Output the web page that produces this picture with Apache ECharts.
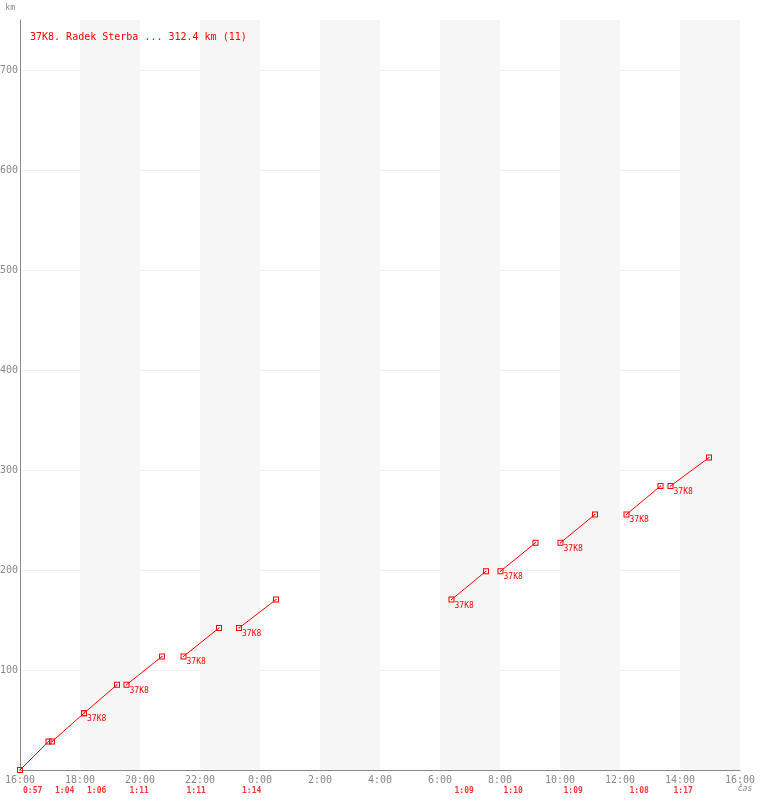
<!DOCTYPE html>
<html><head><meta charset="utf-8">
<script src="https://cdn.jsdelivr.net/npm/echarts@6/dist/echarts.min.js"></script>
<style>html,body{margin:0;padding:0;background:#fff}#c{width:760px;height:800px}</style>
</head><body><div id="c"></div>
<script>
var legStart = ['16:00','17:04','18:08','19:33','21:27','23:18','6:23','8:01','10:01','12:13','13:41'];
var legEnd   = ['16:57','18:08','19:14','20:44','22:38','0:32','7:32','9:11','11:10','13:21','14:58'];
var kmStart  = [0, 28.4, 56.8, 85.2, 113.6, 142.0, 170.4, 198.8, 227.2, 255.6, 284.0];
var kmEnd    = [28.4, 56.8, 85.2, 113.6, 142.0, 170.4, 198.8, 227.2, 255.6, 284.0, 312.4];
var durations = ['0:57','1:04','1:06','1:11','1:11','1:14','1:09','1:10','1:09','1:08','1:17'];
var pointLabels = ['','','37K8','37K8','37K8','37K8','37K8','37K8','37K8','37K8','37K8'];
var title = '37K8. Radek Sterba ... 312.4 km (11)';

function toMin(t){ var p=t.split(':'); var h=+p[0], m=+p[1]; if(h<16) h+=24; return (h-16)*60+m; }
var RED = '#ff0000';
var FONT = '"DejaVu Sans Mono", monospace';
var sym = 'path://M0 0H6V6H0Z M1 1V5H5V1Z M2.5 2.5H3.5V3.5H2.5Z';

var series = [];
for (var i=0;i<legStart.length;i++){
  series.push({
    type:'line', silent:true, animation:false,
    data:[
      {value:[toMin(legStart[i]), kmStart[i]], label:{show: !!pointLabels[i], formatter: pointLabels[i]}},
      {value:[toMin(legEnd[i]), kmEnd[i]]}
    ],
    lineStyle:{color:RED, width:1},
    itemStyle:{color:RED},
    symbol: sym, symbolSize:6, showAllSymbol:true,
    label:{show:false, position:[6,5], color:RED, fontFamily:FONT, fontSize:8, align:'left', verticalAlign:'top'},
    z:3
  });
}
series.push({
  type:'scatter', silent:true, animation:false, clip:false,
  data: legStart.map(function(s,i){ return {value:[toMin(s),0], label:{formatter: durations[i]}}; }),
  symbolSize:0,
  label:{show:true, position:'inside', offset:[3,21], align:'left', verticalAlign:'middle', color:RED, fontFamily:FONT, fontSize:8, fontWeight:'bold'}
});

var chart = echarts.init(document.getElementById('c'), null, {renderer:'canvas'});
chart.setOption({
  animation:false,
  backgroundColor:'#fff',
  title:{text:title, left:30, top:32, padding:0, textStyle:{color:RED, fontFamily:FONT, fontSize:10, fontWeight:'normal'}},
  grid:{left:20, right:20, top:20, bottom:30, containLabel:false, outerBoundsMode:'none'},
  xAxis:{
    type:'value', min:0, max:1440, interval:120,
    name:'čas', nameLocation:'end', nameGap:0,
    nameTextStyle:{color:'#888', fontFamily:FONT, fontSize:8, fontStyle:'italic', align:'center', verticalAlign:'top', padding:[15,0,0,10]},
    axisLine:{lineStyle:{color:'#888', width:1}},
    axisTick:{show:false},
    axisLabel:{color:'#888', fontFamily:FONT, fontSize:10, margin:5,
      formatter:function(v){ var h=(16+Math.round(v/60))%24; return h+':00'; }},
    splitLine:{show:false},
    splitArea:{show:true, areaStyle:{color:['rgba(255,255,255,0)','#f6f6f6']}}
  },
  yAxis:{
    type:'value', min:0, max:750, interval:100,
    name:'km', nameLocation:'end', nameGap:8,
    nameTextStyle:{color:'#888', fontFamily:FONT, fontSize:8, align:'right', padding:[0,5,0,0]},
    axisLine:{show:true, lineStyle:{color:'#888', width:1}},
    axisTick:{show:false},
    axisLabel:{color:'#888', fontFamily:FONT, fontSize:10, margin:2, showMinLabel:false, showMaxLabel:false,
      formatter:function(v){ return (v===0||v===750)?'':String(v); }},
    splitLine:{show:true, showMaxLine:false, showMinLine:false, lineStyle:{color:'#eeeeee', width:1}}
  },
  series: series
});
</script></body></html>
